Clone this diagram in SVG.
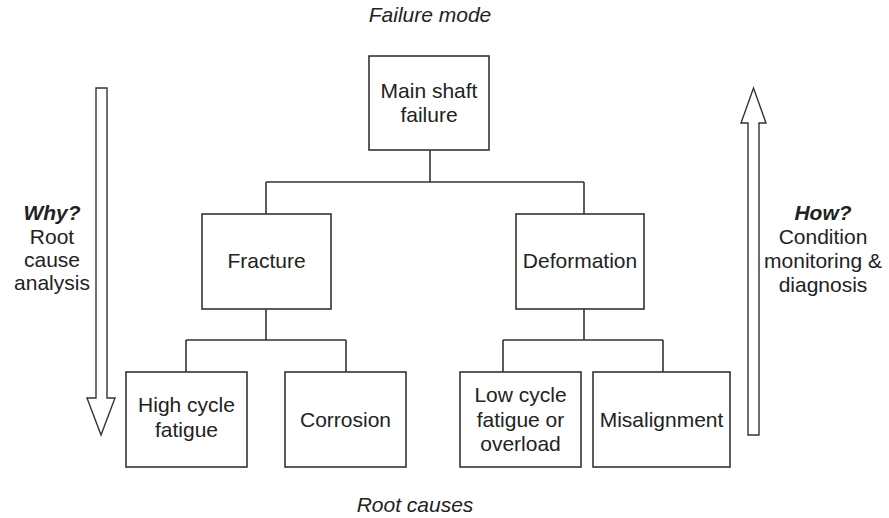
<svg xmlns="http://www.w3.org/2000/svg" width="889" height="518" viewBox="0 0 889 518">
<style>
.box{fill:#fff;stroke:#333;stroke-width:1.6}
.ln{fill:none;stroke:#333;stroke-width:1.6}
.arr{fill:#fff;stroke:#333;stroke-width:1.4;stroke-linejoin:miter}
text{font-family:"Liberation Sans",Arial,sans-serif;font-size:21px;fill:#222;text-anchor:middle}
.it{font-style:italic}
.bi{font-style:italic;font-weight:bold}
</style>
<rect width="889" height="518" fill="#fff"/>
<g id="connectors">
<path class="ln" d="M430 150V182M266 182H584M266 182V214M584 182V214"/>
<path class="ln" d="M266 309V340M186 340H346M186 340V372M346 340V372"/>
<path class="ln" d="M584 309V340M503 340H663M503 340V372M663 340V372"/>
</g>
<g id="why-arrow">
<polygon class="arr" points="96,88 107,88 107,398 115,398 101,435 87,398 96,398"/>
</g>
<g id="how-arrow">
<polygon class="arr" points="748,435 759,435 759,123 766,123 753.5,88 741,123 748,123"/>
</g>
<g id="label-top"><text class="it" x="430" y="22">Failure mode</text></g>
<g id="label-bottom"><text class="it" x="415" y="512">Root causes</text></g>
<g id="label-why">
<text class="bi" x="52" y="220">Why?</text>
<text x="52" y="244">Root</text>
<text x="52" y="267">cause</text>
<text x="52" y="290">analysis</text>
</g>
<g id="label-how">
<text class="bi" x="823" y="220">How?</text>
<text x="823" y="244">Condition</text>
<text x="823" y="268">monitoring &amp;</text>
<text x="823" y="292">diagnosis</text>
</g>
<g id="main">
<rect class="box" x="369" y="56" width="120" height="94"/>
<text x="429" y="98">Main shaft</text>
<text x="429" y="122">failure</text>
</g>
<g id="fracture">
<rect class="box" x="202" y="214" width="129" height="95"/>
<text x="266.5" y="268">Fracture</text>
</g>
<g id="deformation">
<rect class="box" x="516" y="214" width="128" height="95"/>
<text x="580" y="268">Deformation</text>
</g>
<g id="high-cycle">
<rect class="box" x="126" y="372" width="121" height="95"/>
<text x="186.5" y="412">High cycle</text>
<text x="186.5" y="437">fatigue</text>
</g>
<g id="corrosion">
<rect class="box" x="285" y="372" width="121" height="95"/>
<text x="345.5" y="427">Corrosion</text>
</g>
<g id="low-cycle">
<rect class="box" x="460" y="372" width="121" height="95"/>
<text x="520.5" y="402">Low cycle</text>
<text x="520.5" y="427">fatigue or</text>
<text x="520.5" y="451">overload</text>
</g>
<g id="misalignment">
<rect class="box" x="593" y="372" width="137" height="95"/>
<text x="661.5" y="427">Misalignment</text>
</g>
</svg>
